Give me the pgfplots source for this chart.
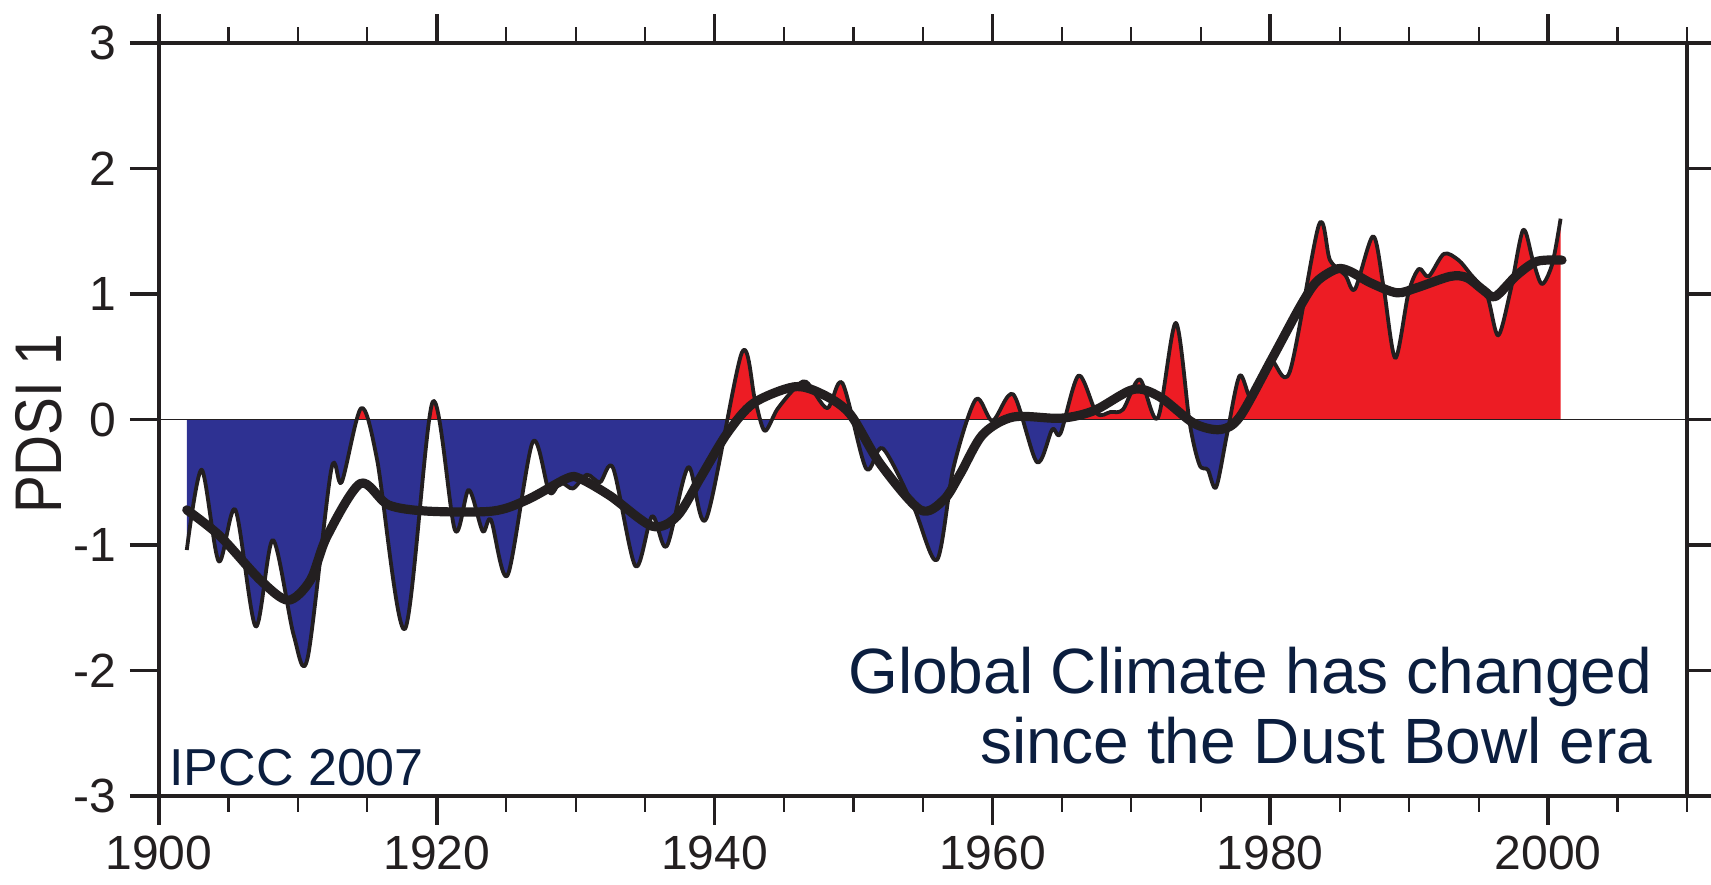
\documentclass[border=0pt]{standalone}
\usepackage{fontspec}
\setmainfont{Liberation Sans}
\newfontfamily\labelfont[FakeStretch=0.86]{Liberation Sans}
\usepackage{pgfplots}
\usepackage{pgfplotstable}
\pgfplotsset{compat=1.18}

\definecolor{pdsired}{HTML}{ED1C24}
\definecolor{pdsiblue}{HTML}{2E3192}
\definecolor{inkblack}{HTML}{231F20}
\definecolor{navy}{HTML}{0B1E3F}

% annual Palmer Drought Severity Index (leading pattern)
\pgfplotstableread{
year value
1902.0 -1.04
1903.07 -0.40
1904.3 -1.13
1905.5 -0.72
1906.96 -1.65
1908.2 -0.96
1909.7 -1.72
1910.7 -1.90
1912.4 -0.40
1913.15 -0.50
1914.55 0.09
1915.7 -0.32
1917.7 -1.67
1919.7 0.14
1921.3 -0.88
1922.3 -0.56
1923.3 -0.89
1923.9 -0.80
1925.1 -1.24
1926.9 -0.18
1928.1 -0.58
1928.9 -0.50
1929.8 -0.55
1930.8 -0.44
1931.75 -0.50
1932.7 -0.39
1934.3 -1.17
1935.5 -0.77
1936.55 -1.01
1938.1 -0.38
1939.4 -0.79
1941.95 0.53
1942.9 0.16
1943.6 -0.09
1944.5 0.08
1945.7 0.24
1946.6 0.30
1948.1 0.09
1949.2 0.29
1950.9 -0.39
1952.1 -0.23
1954.3 -0.69
1956.0 -1.12
1957.2 -0.38
1958.8 0.16
1960.0 -0.01
1961.5 0.20
1963.2 -0.34
1964.3 -0.08
1964.9 -0.11
1966.2 0.35
1967.5 0.05
1968.5 0.06
1969.4 0.08
1970.6 0.32
1971.9 0.01
1973.2 0.77
1974.2 -0.03
1974.9 -0.36
1975.5 -0.40
1976.1 -0.54
1976.9 -0.11
1977.8 0.35
1978.7 0.16
1980.0 0.47
1981.4 0.38
1983.5 1.55
1984.3 1.27
1985.4 1.15
1986.1 1.04
1987.4 1.46
1988.15 1.06
1989.0 0.49
1989.95 1.01
1990.7 1.20
1991.4 1.14
1992.5 1.32
1993.55 1.27
1994.4 1.16
1995.6 0.99
1996.4 0.67
1997.3 1.03
1998.2 1.51
1998.9 1.27
1999.55 1.08
2000.3 1.24
2000.9 1.60
}\annual

% low-pass filtered series
\pgfplotstableread{
year value
1902.0 -0.72
1904.4 -0.93
1907.3 -1.28
1909.3 -1.44
1910.9 -1.28
1912.1 -0.93
1914.5 -0.51
1916.5 -0.68
1919.3 -0.73
1924.0 -0.73
1926.5 -0.64
1929.35 -0.47
1930.3 -0.47
1932.5 -0.61
1935.5 -0.85
1937.3 -0.77
1939.0 -0.46
1940.9 -0.11
1942.8 0.13
1945.7 0.26
1947.6 0.21
1949.7 0.05
1951.9 -0.35
1954.8 -0.72
1956.5 -0.64
1957.7 -0.43
1959.3 -0.12
1961.5 0.02
1964.9 0.01
1967.3 0.07
1970.15 0.24
1972.05 0.18
1974.5 -0.03
1976.4 -0.08
1977.8 0.02
1980.1 0.48
1982.2 0.91
1983.35 1.10
1984.8 1.20
1985.75 1.18
1987.2 1.09
1989.1 1.01
1990.55 1.05
1992.95 1.14
1994.15 1.13
1995.35 1.03
1996.2 0.98
1997.75 1.15
1999.2 1.26
2001.0 1.27
}\smoothed

\begin{document}
\begin{tikzpicture}
\begin{axis}[
  scale only axis,
  width=382pt, height=188.25pt,
  xmin=1900, xmax=2010,
  ymin=-3, ymax=3,
  xtick={1900,1920,1940,1960,1980,2000},
  xticklabels={1900,1920,1940,1960,1980,2000},
  minor xtick={1905,1910,1915,1925,1930,1935,1945,1950,1955,1965,1970,1975,1985,1990,1995,2005,2010},
  ytick={-3,-2,-1,0,1,2,3},
  yticklabels={-3,-2,-1,0,1,2,3},
  tick align=outside,
  tick pos=both,
  major tick length=7.25pt,
  minor tick length=4pt,
  major tick style={line width=0.9pt, inkblack},
  minor tick style={line width=0.55pt, inkblack},
  axis line style={line width=0.9pt, inkblack},
  tick label style={font=\fontsize{12}{14}\selectfont, text=inkblack},
  xticklabel style={inner sep=2.5pt},
  ylabel={\labelfont PDSI 1},
  ylabel style={at={(axis description cs:-0.0785,0.494)}, anchor=center,
    font=\fontsize{16.5}{19}\selectfont, text=inkblack},
  clip=true,
]
\begin{scope}
  \clip (axis cs:1900,0) rectangle (axis cs:2010,3);
  \addplot[draw=none, fill=pdsired, smooth] table[x=year, y=value] {\annual} \closedcycle;
\end{scope}
\begin{scope}
  \clip (axis cs:1900,-3) rectangle (axis cs:2010,0);
  \addplot[draw=none, fill=pdsiblue, smooth] table[x=year, y=value] {\annual} \closedcycle;
\end{scope}

\draw[line width=0.45pt, inkblack] (axis cs:1900,0) -- (axis cs:2010,0);

\addplot[inkblack, line width=0.95pt, smooth, line join=round] table[x=year, y=value] {\annual};
\addplot[inkblack, line width=2.3pt, smooth, line cap=round, line join=round] table[x=year, y=value] {\smoothed};

\node[anchor=base east, inner sep=0pt, text=navy, font=\fontsize{16}{19}\selectfont]
  at (axis cs:2007.56,-2.18) {Global Climate has changed};
\node[anchor=base east, inner sep=0pt, text=navy, font=\fontsize{16}{19}\selectfont]
  at (axis cs:2007.56,-2.745) {since the Dust Bowl era};
\node[anchor=base west, inner sep=0pt, text=navy, font=\fontsize{13}{15}\selectfont]
  at (axis cs:1900.7,-2.92) {IPCC 2007};
\end{axis}
\pgfresetboundingbox
\path[use as bounding box]
  ([shift={(-39.75pt,-22.25pt)}]current axis.south west)
  rectangle ([shift={(6pt,10.75pt)}]current axis.north east);
\end{tikzpicture}
\end{document}
